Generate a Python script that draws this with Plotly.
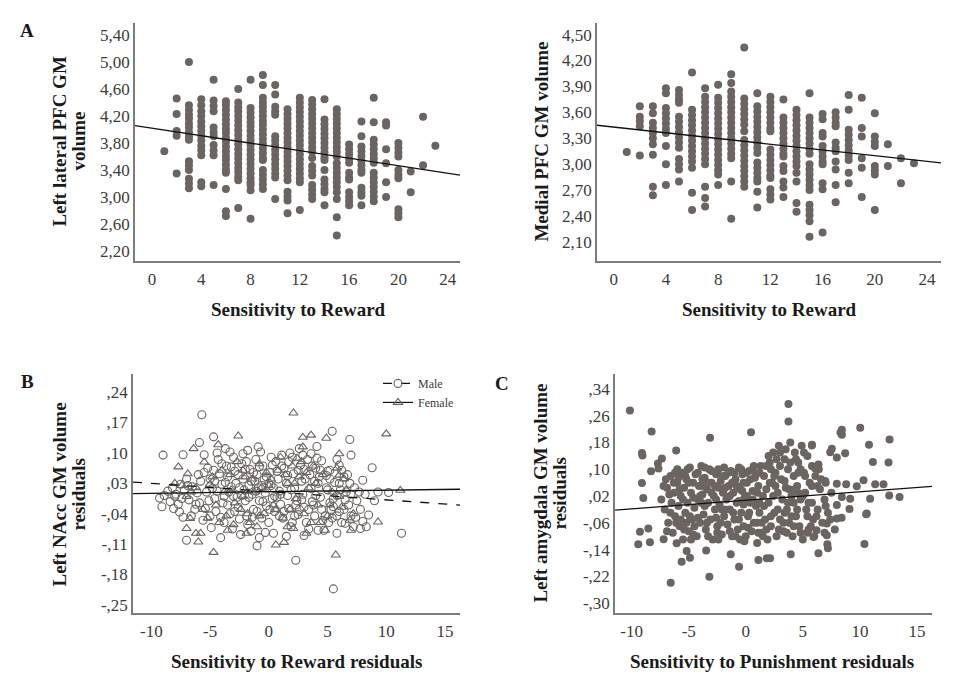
import plotly.graph_objects as go

W, H = 957, 682

# ---------------- Panel A: Left lateral PFC GM volume vs Sensitivity to Reward
a_cols = list(range(1, 24))
a_vals = [
    [3.68],
    [4.46, 4.23, 3.98, 3.91, 3.35],
    [5.00, 4.36, 4.29, 4.22, 4.16, 4.09, 4.03, 3.96, 3.90, 3.85, 3.53, 3.47, 3.40, 3.27, 3.20, 3.13],
    [4.45, 4.36, 4.27, 4.20, 4.12, 4.05, 3.98, 3.91, 3.84, 3.76, 3.69, 3.62, 3.22, 3.16],
    [4.74, 4.43, 4.35, 4.27, 4.03, 3.96, 3.90, 3.77, 3.69, 3.62, 3.18],
    [4.42, 4.36, 4.29, 4.22, 4.15, 4.08, 4.01, 3.95, 3.88, 3.82, 3.75, 3.68, 3.61, 3.55, 3.48, 3.41, 3.36, 3.12, 2.79, 2.72],
    [4.60, 4.40, 4.33, 4.27, 4.20, 4.13, 4.06, 3.99, 3.92, 3.85, 3.78, 3.71, 3.64, 3.57, 3.50, 3.43, 3.37, 3.30, 3.25, 2.84],
    [4.74, 4.32, 4.25, 4.18, 4.11, 4.05, 3.98, 3.91, 3.84, 3.77, 3.70, 3.63, 3.56, 3.49, 3.42, 3.35, 3.28, 3.22, 3.18, 3.10, 2.68],
    [4.81, 4.66, 4.47, 4.40, 4.34, 4.27, 4.20, 4.13, 4.07, 4.00, 3.93, 3.86, 3.79, 3.72, 3.65, 3.58, 3.55, 3.40, 3.33, 3.26, 3.19, 3.12],
    [4.66, 4.52, 4.34, 4.27, 4.22, 3.90, 3.84, 3.77, 3.70, 3.63, 3.56, 3.49, 3.42, 3.35, 3.29, 2.97],
    [4.30, 4.23, 4.16, 4.09, 4.02, 3.95, 3.88, 3.81, 3.74, 3.67, 3.60, 3.53, 3.46, 3.39, 3.32, 3.25, 3.08, 3.01, 2.95, 2.76],
    [4.47, 4.40, 4.33, 4.26, 4.19, 4.12, 4.05, 3.98, 3.91, 3.84, 3.77, 3.70, 3.63, 3.56, 3.49, 3.42, 3.35, 3.28, 3.22, 2.81],
    [4.44, 4.37, 4.30, 4.23, 4.16, 4.09, 4.02, 3.95, 3.88, 3.81, 3.74, 3.67, 3.58, 3.46, 3.39, 3.32, 3.18, 3.11, 3.04, 2.97],
    [4.45, 4.15, 4.08, 4.01, 3.94, 3.87, 3.80, 3.73, 3.66, 3.59, 3.55, 3.40, 3.26, 3.19, 3.12, 3.07, 2.88],
    [4.30, 4.23, 4.16, 4.09, 4.02, 3.95, 3.88, 3.81, 3.74, 3.67, 3.60, 3.50, 3.43, 3.36, 3.29, 3.22, 3.15, 3.07, 2.97, 2.70, 2.43],
    [3.78, 3.71, 3.64, 3.57, 3.51, 3.36, 3.29, 3.26, 3.07, 3.00, 2.94, 2.88],
    [4.12, 3.90, 3.75, 3.68, 3.61, 3.54, 3.47, 3.40, 3.36, 3.14, 3.07, 3.02, 2.88],
    [4.47, 4.11, 3.85, 3.78, 3.71, 3.64, 3.57, 3.51, 3.36, 3.29, 3.22, 3.15, 3.08, 3.01, 2.94],
    [4.11, 4.06, 3.71, 3.50, 3.22, 3.00],
    [3.80, 3.73, 3.66, 3.60, 3.40, 3.33, 3.28, 2.82, 2.76, 2.70],
    [3.38, 3.07],
    [4.19, 3.47],
    [3.76],
]
a_line_x = [-1.38, 25.0]
a_line_y = [4.06, 3.325]
a_yticks = [2.2, 2.6, 3.0, 3.4, 3.8, 4.2, 4.6, 5.0, 5.4]
a_yticktext = ["2,20", "2,60", "3,00", "3,40", "3,80", "4,20", "4,60", "5,00", "5,40"]
sr_xticks = [0, 4, 8, 12, 16, 20, 24]

# ---------------- Panel (top right): Medial PFC GM volume vs Sensitivity to Reward
m_cols = list(range(1, 24))
m_vals = [
    [3.14],
    [3.67, 3.55, 3.50, 3.44, 3.10],
    [3.67, 3.59, 3.48, 3.42, 3.36, 3.30, 3.23, 3.11, 2.74, 2.64],
    [3.88, 3.82, 3.65, 3.59, 3.53, 3.47, 3.41, 3.36, 3.21, 3.00, 2.76],
    [3.86, 3.80, 3.75, 3.71, 3.55, 3.49, 3.43, 3.37, 3.31, 3.25, 3.19, 3.06, 3.00, 2.94, 2.80],
    [4.06, 3.63, 3.57, 3.51, 3.45, 3.39, 3.33, 3.27, 3.21, 3.15, 3.09, 3.03, 2.96, 2.67, 2.47],
    [3.88, 3.78, 3.72, 3.66, 3.60, 3.54, 3.48, 3.42, 3.36, 3.30, 3.24, 3.18, 3.12, 3.06, 3.00, 2.74, 2.61, 2.51],
    [3.92, 3.77, 3.71, 3.65, 3.59, 3.53, 3.47, 3.41, 3.35, 3.29, 3.23, 3.17, 3.11, 3.05, 2.99, 2.93, 2.88, 2.76],
    [4.04, 3.94, 3.84, 3.78, 3.72, 3.66, 3.60, 3.54, 3.48, 3.42, 3.36, 3.30, 3.24, 3.18, 3.12, 3.07, 2.80, 2.37],
    [4.35, 3.76, 3.70, 3.64, 3.58, 3.52, 3.46, 3.38, 3.28, 3.22, 3.16, 3.10, 3.04, 2.98, 2.92, 2.86, 2.80, 2.74],
    [3.82, 3.67, 3.61, 3.55, 3.49, 3.43, 3.37, 3.31, 3.25, 3.19, 3.13, 3.02, 2.96, 2.90, 2.84, 2.80, 2.68, 2.50],
    [3.78, 3.72, 3.66, 3.60, 3.54, 3.48, 3.42, 3.38, 3.17, 3.11, 3.05, 2.99, 2.93, 2.87, 2.84, 2.71, 2.65, 2.59],
    [3.75, 3.54, 3.48, 3.42, 3.36, 3.30, 3.24, 3.18, 3.12, 3.09, 2.98, 2.92, 2.80, 2.73, 2.62],
    [3.63, 3.57, 3.51, 3.45, 3.39, 3.33, 3.27, 3.21, 3.15, 3.09, 3.03, 2.98, 2.90, 2.80, 2.55, 2.45],
    [3.82, 3.54, 3.48, 3.42, 3.36, 3.30, 3.24, 3.18, 3.12, 3.00, 2.94, 2.88, 2.82, 2.76, 2.70, 2.53, 2.47, 2.41, 2.34, 2.16],
    [3.58, 3.52, 3.36, 3.32, 3.21, 3.15, 3.09, 3.03, 3.00, 2.78, 2.71, 2.21],
    [3.60, 3.54, 3.48, 3.44, 3.25, 3.19, 3.15, 3.03, 2.94, 2.76, 2.56],
    [3.80, 3.63, 3.40, 3.34, 3.28, 3.22, 3.16, 3.10, 3.05, 2.90, 2.78],
    [3.77, 3.42, 3.32, 3.07, 2.96, 2.62],
    [3.59, 3.32, 3.26, 3.21, 2.98, 2.93, 2.88, 2.47],
    [3.23, 2.98],
    [3.07, 2.78],
    [3.01],
]
m_line_x = [-1.28, 25.07]
m_line_y = [3.451, 3.015]
m_yticks = [2.1, 2.4, 2.7, 3.0, 3.3, 3.6, 3.9, 4.2, 4.5]
m_yticktext = ["2,10", "2,40", "2,70", "3,00", "3,30", "3,60", "3,90", "4,20", "4,50"]

# ---------------- Panel B: Left NAcc residuals vs Sensitivity to Reward residuals
b_male = [
    (-5.7, 0.188), (-9.0, 0.095), (-7.3, 0.096), (-4.7, 0.137), (-5.9, 0.124), (-0.9, 0.114),
    (-1.8, 0.106), (-3.3, 0.102), (5.4, 0.150), (6.9, 0.131), (7.0, 0.095), (8.8, 0.066),
    (8.0, 0.037), (9.3, 0.010), (10.2, 0.009), (11.3, -0.085), (2.3, -0.147), (5.5, -0.213),
    (-1.0, -0.114), (-0.8, -0.095), (-0.3, -0.083), (-7.0, -0.101), (-9.1, -0.024), (-8.1, -0.028),
    (-7.6, -0.036), (-9.3, -0.004), (5.8, -0.085), (8.3, -0.070), (7.8, -0.074), (8.5, -0.043),
    (5.5, -0.024), (6.0, 0.072), (5.2, 0.060), (-5.5, 0.096),
    (-8.6, 0.012), (-8.2, 0.020), (-7.9, 0.005), (-7.5, 0.028), (-7.2, 0.015), (-6.8, -0.008),
    (-8.4, -0.012), (-7.7, -0.018), (-6.5, 0.022), (-6.3, -0.030), (-7.0, 0.040), (-6.1, 0.008),
    (-5.9, -0.015), (-8.9, 0.002), (-6.6, -0.045), (-5.6, -0.055), (-7.3, -0.048),
    (-5.2, 0.065), (-5.0, 0.040), (-4.8, 0.018), (-4.6, -0.005), (-4.5, -0.035), (-4.3, 0.085),
    (-4.2, 0.052), (-4.0, 0.028), (-3.9, -0.015), (-3.8, -0.060), (-3.6, 0.070), (-3.5, 0.045),
    (-3.4, 0.010), (-3.3, -0.040), (-3.1, -0.075), (-3.0, 0.090), (-2.9, 0.058), (-2.8, 0.030),
    (-2.7, -0.002), (-2.6, -0.025), (-2.5, -0.052), (-2.3, 0.075), (-2.2, 0.040), (-2.1, 0.015),
    (-2.0, -0.010), (-1.9, -0.045), (-1.8, -0.065), (-1.6, 0.062), (-1.5, 0.035), (-1.4, 0.005),
    (-1.3, -0.030), (-1.1, 0.085), (-1.0, 0.050), (-0.9, 0.020), (-0.8, -0.010), (-0.6, -0.050),
    (-0.5, 0.070), (-0.4, 0.038), (-0.3, 0.008), (-0.2, -0.022), (0.0, -0.060), (0.1, 0.055),
    (0.2, 0.025), (0.3, -0.005), (0.5, -0.035), (0.6, 0.080), (0.8, 0.040), (0.9, 0.012),
    (1.0, -0.018), (1.2, -0.050), (1.3, 0.065), (1.5, 0.030), (1.6, 0.002), (1.7, -0.028),
    (1.9, -0.070), (2.0, 0.090), (2.1, 0.052), (2.2, 0.020), (2.4, -0.010), (2.5, -0.042),
    (2.7, 0.072), (2.8, 0.035), (2.9, 0.005), (3.0, -0.025), (3.2, -0.060), (3.3, 0.085),
    (3.5, 0.050), (3.6, 0.018), (3.7, -0.012), (3.9, -0.045), (4.0, 0.065), (4.2, 0.030),
    (4.4, -0.002), (4.5, -0.030), (4.7, -0.078), (4.9, 0.048), (5.0, 0.015), (5.2, -0.015),
    (5.4, -0.050), (5.6, 0.032), (5.8, 0.002), (6.0, -0.035), (6.2, -0.060), (6.4, 0.045),
    (6.6, 0.010), (6.8, -0.020), (7.0, -0.045), (7.3, 0.020), (7.5, -0.010), (7.8, -0.030),
    (8.2, 0.005), (9.0, -0.010), (-4.9, -0.072), (-4.1, -0.095), (-2.4, -0.088), (-1.5, -0.080),
    (0.4, -0.085), (1.5, -0.092), (3.0, -0.090), (4.2, -0.078), (6.5, -0.062), (-3.7, 0.110),
    (-2.2, 0.098), (-0.7, 0.102), (1.8, 0.100), (3.6, 0.098), (4.5, 0.082), (5.8, 0.085),
    (-5.3, 0.010), (-5.4, -0.028), (-3.2, 0.022), (-1.7, -0.002), (0.0, 0.030), (0.7, -0.002),
    (2.3, -0.020), (3.9, 0.035), (4.8, -0.045), (6.2, 0.060), (7.2, -0.070), (8.0, -0.058),
    (-6.0, 0.050), (-4.4, 0.100), (1.1, 0.095), (2.6, 0.110), (4.1, 0.115), (-1.2, 0.035),
    (0.3, 0.072), (3.4, -0.075), (5.1, -0.060), (6.9, 0.030),
    (-5.8, 0.035), (-5.1, -0.010), (-4.7, 0.060), (-4.4, 0.012), (-4.1, -0.048), (-3.7, 0.032),
    (-3.5, -0.020), (-3.2, 0.068), (-2.9, -0.035), (-2.6, 0.050), (-2.3, 0.002), (-2.0, 0.062),
    (-1.7, 0.025), (-1.4, -0.048), (-1.1, 0.012), (-0.8, 0.068), (-0.5, -0.012), (-0.2, 0.045),
    (0.1, -0.030), (0.4, 0.020), (0.7, 0.058), (1.0, 0.005), (1.3, -0.035), (1.6, 0.048),
    (1.9, 0.015), (2.2, -0.045), (2.5, 0.060), (2.8, -0.008), (3.1, 0.040), (3.4, -0.030),
    (3.7, 0.070), (4.0, 0.002), (4.3, 0.045), (4.6, -0.055), (4.9, 0.020), (5.2, 0.040),
    (5.5, -0.005), (5.8, -0.045), (6.1, 0.015), (6.4, -0.030), (6.7, 0.050), (7.0, 0.005),
    (7.4, -0.048), (7.7, 0.010), (-8.0, 0.000), (-7.4, -0.005), (-6.9, 0.025), (-6.2, -0.018),
    (-5.5, 0.055), (-5.0, -0.045), (-4.0, 0.075), (-3.0, 0.000), (-1.9, 0.080), (-1.0, -0.035),
    (0.2, 0.090), (1.1, 0.070), (2.0, -0.060), (3.0, 0.062), (4.1, 0.088), (5.0, 0.058),
    (6.0, 0.030), (-0.6, 0.025), (-2.5, 0.020), (-3.8, 0.000), (0.9, -0.045), (2.6, -0.030),
    (3.8, -0.020), (5.3, -0.030), (6.5, -0.008), (-4.6, 0.035), (-1.3, 0.055), (0.5, 0.000),
    (1.7, 0.080), (2.9, 0.095), (4.4, 0.060),
]
b_female = [
    (2.1, 0.192), (10.0, 0.144), (2.9, 0.136), (3.6, 0.141), (4.9, 0.134), (-2.6, 0.139),
    (-4.3, 0.119), (-6.4, 0.110), (2.9, 0.114), (6.0, 0.098), (-7.7, 0.068), (-6.9, 0.052),
    (-5.5, 0.079), (6.0, 0.049), (11.2, 0.014), (9.3, -0.059), (-6.7, -0.051), (-7.0, -0.074),
    (-6.2, -0.085), (-5.8, -0.085), (-6.0, -0.105), (-4.7, -0.129), (5.7, -0.135), (0.6, -0.112),
    (1.3, -0.106), (4.8, -0.078), (7.0, -0.078), (2.1, -0.074), (-1.9, -0.085), (-3.5, -0.078),
    (-5.0, 0.028), (-4.5, -0.020), (-4.0, 0.060), (-3.6, -0.045), (-3.2, 0.015), (-2.7, 0.080),
    (-2.4, -0.030), (-2.0, 0.045), (-1.6, -0.060), (-1.2, 0.010), (-0.8, 0.075), (-0.4, -0.040),
    (0.0, 0.025), (0.4, -0.020), (0.8, 0.060), (1.2, -0.050), (1.6, 0.030), (2.0, 0.070),
    (2.3, -0.005), (2.6, 0.045), (3.0, -0.040), (3.4, 0.020), (3.8, 0.070), (4.2, -0.020),
    (4.6, 0.050), (5.0, -0.045), (5.4, 0.010), (5.8, 0.065), (6.2, -0.025), (6.6, 0.015),
    (7.2, -0.040), (-7.0, 0.000), (-6.2, 0.020), (-5.6, -0.030), (-8.0, 0.030), (-3.0, -0.065),
    (1.0, 0.090), (2.4, 0.088), (3.2, -0.085), (4.4, -0.060), (-1.0, -0.070), (0.2, 0.040),
    (1.8, -0.030), (-2.2, 0.000), (6.9, -0.055),
    (-4.8, 0.045), (-4.2, -0.060), (-3.8, 0.010), (-3.3, 0.050), (-2.9, -0.015), (-2.2, 0.060),
    (-1.8, -0.040), (-1.4, 0.040), (-0.6, 0.020), (-0.2, 0.055), (0.6, -0.030), (1.4, 0.050),
    (2.2, 0.030), (2.8, 0.080), (3.6, -0.060), (4.0, 0.030), (5.2, -0.020), (6.0, 0.000),
    (6.4, 0.040), (-5.2, -0.050), (-6.6, 0.010), (-7.4, 0.025), (3.2, 0.055), (1.6, -0.070),
    (-0.8, -0.045),
]
b_male_line_x = [-11.56, 16.28]
b_male_line_y = [0.033, -0.020]
b_female_line_x = [-11.56, 16.28]
b_female_line_y = [0.0065, 0.0164]
b_yticks = [-0.25, -0.18, -0.11, -0.04, 0.03, 0.10, 0.17, 0.24]
b_yticktext = ["-,25", "-,18", "-,11", "-,04", ",03", ",10", ",17", ",24"]
res_xticks = [-10, -5, 0, 5, 10, 15]

# ---------------- Panel C: Left amygdala residuals vs Sensitivity to Punishment residuals
c_points = [
    (-10.15, 0.276), (-8.25, 0.213), (-3.13, 0.194), (0.46, 0.211), (-9.1, 0.149), (-9.05, 0.141),
    (-6.1, 0.156), (-7.35, 0.132), (-7.7, 0.117), (-7.65, 0.102), (-8.3, 0.094), (-9.1, 0.059),
    (-8.98, 0.014), (-9.42, -0.124), (-8.4, -0.118), (-7.2, -0.109), (-5.62, -0.176), (-4.89, -0.164),
    (-6.58, -0.239), (-3.19, -0.221), (-1.32, -0.154), (-0.59, -0.191), (-3.47, -0.143), (-6.06, -0.121),
    (-5.18, -0.144), (-0.12, -0.115), (1.11, -0.171), (1.84, -0.166), (-9.27, -0.087), (-8.54, -0.077),
    (3.74, 0.295), (3.74, 0.243), (10.03, 0.224), (8.42, 0.218), (8.42, 0.203), (12.6, 0.189),
    (10.8, 0.173), (5.79, 0.171), (7.54, 0.161), (7.4, 0.151), (8.71, 0.148), (7.98, 0.135),
    (11.14, 0.122), (12.51, 0.120), (6.37, 0.114), (6.08, 0.102), (10.32, 0.067), (11.34, 0.055),
    (12.07, 0.055), (9.73, 0.049), (8.8, 0.055), (7.98, 0.057), (6.96, 0.065), (10.9, 0.012),
    (12.57, 0.022), (13.48, 0.017), (9.15, 0.012), (8.42, 0.017), (7.98, -0.007), (9.09, -0.019),
    (10.55, -0.034), (8.4, -0.045), (7.98, -0.047), (7.1, -0.062), (7.1, -0.097), (7.15, -0.124),
    (7.2, -0.136), (10.4, -0.123), (6.37, -0.151), (3.94, -0.154), (2.13, -0.166), (5.93, -0.102),
    (6.2, -0.082), (10.6, -0.032), (5.8, 0.173), (8.3, 0.210),
    (-7.4, 0.010), (-7.1, -0.020), (-6.9, 0.045), (-6.8, -0.060), (-6.6, 0.080), (-6.5, 0.000),
    (-6.4, -0.090), (-6.3, 0.030), (-6.2, -0.040), (-6.0, 0.100), (-6.0, 0.060), (-5.9, -0.010),
    (-5.8, -0.070), (-5.7, 0.020), (-5.6, 0.090), (-5.5, -0.110), (-5.4, 0.045), (-5.3, -0.030),
    (-5.2, 0.070), (-5.1, 0.000), (-5.0, -0.085), (-4.9, 0.105), (-4.8, 0.030), (-4.7, -0.050),
    (-4.6, 0.060), (-4.5, -0.015), (-4.4, 0.085), (-4.3, -0.100), (-4.2, 0.010), (-4.1, 0.050),
    (-4.0, -0.060), (-3.9, 0.110), (-3.8, 0.025), (-3.7, -0.035), (-3.6, 0.075), (-3.5, -0.080),
    (-3.4, 0.040), (-3.3, 0.000), (-3.2, 0.100), (-3.1, -0.050), (-3.0, 0.060), (-2.9, -0.110),
    (-2.8, 0.020), (-2.7, -0.020), (-2.6, 0.085), (-2.5, -0.070), (-2.4, 0.045), (-2.3, -0.005),
    (-2.2, 0.065), (-2.1, -0.095), (-2.0, 0.030), (-1.9, -0.040), (-1.8, 0.080), (-1.7, 0.010),
    (-1.6, -0.065), (-1.5, 0.050), (-1.4, -0.020), (-1.3, 0.095), (-1.2, -0.100), (-1.1, 0.030),
    (-1.0, -0.050), (-0.9, 0.070), (-0.8, 0.000), (-0.7, -0.080), (-0.6, 0.105), (-0.5, 0.040),
    (-0.4, -0.030), (-0.3, 0.085), (-0.2, -0.070), (-0.1, 0.015), (0.0, -0.100), (0.1, 0.060),
    (0.2, -0.040), (0.3, 0.095), (0.4, 0.000), (0.5, -0.085), (0.6, 0.035), (0.7, -0.060),
    (0.8, 0.075), (0.9, -0.010), (1.0, -0.120), (1.1, 0.050), (1.2, -0.030), (1.3, 0.110),
    (1.4, -0.090), (1.5, 0.020), (1.6, 0.080), (1.7, -0.050), (1.8, 0.040), (1.9, -0.110),
    (2.0, 0.000), (2.1, 0.120), (2.2, -0.070), (2.3, 0.060), (2.4, 0.150), (2.5, -0.030),
    (2.6, 0.090), (2.7, -0.100), (2.8, 0.030), (2.9, 0.170), (3.0, -0.050), (3.1, 0.070),
    (3.2, 0.010), (3.3, -0.085), (3.4, 0.130), (3.5, 0.045), (3.6, -0.020), (3.7, 0.100),
    (3.8, -0.060), (3.9, 0.180), (4.0, 0.020), (4.1, -0.100), (4.2, 0.080), (4.3, 0.150),
    (4.4, -0.040), (4.5, 0.050), (4.6, 0.120), (4.7, -0.070), (4.8, 0.010), (4.9, 0.170),
    (5.0, -0.110), (5.1, 0.090), (5.2, 0.030), (5.3, -0.020), (5.4, 0.140), (5.5, -0.080),
    (5.6, 0.060), (5.8, 0.000), (5.9, -0.050), (6.1, 0.080), (6.3, -0.020), (6.5, 0.040),
    (6.7, -0.060), (6.9, 0.010), (7.2, -0.030), (7.5, 0.030), (7.8, -0.080),
    (-5.5, 0.010), (-4.9, -0.040), (-4.2, 0.090), (-3.6, -0.010), (-3.0, 0.030), (-2.4, 0.100),
    (-1.8, -0.020), (-1.2, 0.060), (-0.6, -0.050), (0.0, 0.090), (0.6, 0.010), (1.2, 0.090),
    (1.8, -0.080), (2.4, 0.020), (3.0, 0.110), (3.6, -0.090), (4.2, 0.000), (4.8, 0.100),
    (5.4, -0.040), (-6.7, 0.025), (-5.9, 0.075), (-5.2, -0.060), (-4.6, -0.095), (-3.9, 0.000),
    (-3.3, 0.060), (-2.6, -0.045), (-2.0, 0.080), (-1.4, 0.020), (-0.8, 0.050), (-0.2, -0.005),
    (0.4, 0.070), (1.0, -0.060), (1.6, -0.010), (2.2, 0.100), (2.8, -0.020), (3.4, 0.065),
    (4.0, -0.040), (4.6, 0.030), (5.2, 0.080), (5.8, 0.050), (6.4, 0.100), (7.0, 0.060),
    (-7.0, 0.070), (-6.6, -0.030), (-6.2, 0.090), (-5.8, 0.040), (-5.4, -0.080), (-5.0, 0.060),
    (-4.6, 0.015), (-4.2, -0.045), (-3.8, 0.070), (-3.4, -0.060), (-3.0, 0.095), (-2.6, 0.010),
    (-2.2, -0.060), (-1.8, 0.045), (-1.4, -0.085), (-1.0, 0.090), (-0.6, 0.005), (-0.2, 0.060),
    (0.2, -0.075), (0.6, 0.100), (1.0, 0.030), (1.4, -0.060), (1.8, 0.110), (2.2, -0.040),
    (2.6, 0.050), (3.0, 0.150), (3.4, -0.030), (3.8, 0.040), (4.2, -0.070), (4.6, 0.090),
    (5.0, 0.020), (5.4, -0.090), (5.8, 0.110), (6.2, -0.040), (6.6, 0.070), (7.0, -0.010),
    (-6.9, -0.085), (-6.3, 0.060), (-5.7, -0.050), (-5.1, 0.100), (-4.5, -0.070), (-3.9, 0.050),
    (-3.3, -0.100), (-2.7, 0.050), (-2.1, -0.020), (-1.5, 0.090), (-0.9, -0.100), (-0.3, 0.035),
    (0.3, -0.030), (0.9, 0.085), (1.5, -0.100), (2.1, 0.060), (2.7, 0.130), (3.3, -0.060),
    (3.9, 0.120), (4.5, -0.020), (5.1, 0.150), (5.7, -0.070), (6.3, 0.050), (6.9, -0.090),
    (-7.2, 0.050), (-6.1, -0.060), (-4.8, -0.110), (-4.0, 0.020), (-2.5, -0.090), (-1.1, -0.030),
    (0.1, 0.020), (1.1, -0.090), (2.5, 0.080), (3.5, 0.160), (4.4, 0.130), (5.5, 0.000),
    (6.0, -0.100), (7.4, -0.050), (-5.3, 0.080), (-3.6, 0.105), (-1.9, 0.105), (-0.4, 0.100),
    (0.7, 0.110), (2.0, 0.140), (3.7, 0.000), (4.3, 0.040), (-2.4, -0.110), (-0.5, -0.110),
    (1.2, 0.000), (2.9, -0.080), (4.8, -0.090),
]
c_line_x = [-11.46, 16.32]
c_line_y = [-0.022, 0.049]
c_yticks = [-0.30, -0.22, -0.14, -0.06, 0.02, 0.10, 0.18, 0.26, 0.34]
c_yticktext = ["-,30", "-,22", "-,14", "-,06", ",02", ",10", ",18", ",26", ",34"]

# ---------------- styling
DOT = "#6b6461"
AXIS = "#7d7d7d"
SERIF = "Liberation Serif, Times New Roman, serif"
TICKFONT = dict(family=SERIF, size=17, color="#3c3c3c")


def flatten(cols, vals):
    xs, ys = [], []
    for c, v in zip(cols, vals):
        xs.extend([c] * len(v))
        ys.extend(v)
    return xs, ys


a_x, a_y = flatten(a_cols, a_vals)
m_x, m_y = flatten(m_cols, m_vals)

fig = go.Figure()

dot_marker = dict(color=DOT, size=8, line=dict(width=0))
open_circle = dict(symbol="circle-open", color=DOT, size=8, line=dict(width=1.1, color=DOT))
open_tri = dict(symbol="triangle-up-open", color=DOT, size=8, line=dict(width=1.1, color=DOT))

fig.add_trace(go.Scatter(x=a_x, y=a_y, mode="markers", marker=dot_marker,
                         xaxis="x", yaxis="y", showlegend=False))
fig.add_trace(go.Scatter(x=a_line_x, y=a_line_y, mode="lines",
                         line=dict(color="#111111", width=1.3),
                         xaxis="x", yaxis="y", showlegend=False))

fig.add_trace(go.Scatter(x=m_x, y=m_y, mode="markers", marker=dot_marker,
                         xaxis="x2", yaxis="y2", showlegend=False))
fig.add_trace(go.Scatter(x=m_line_x, y=m_line_y, mode="lines",
                         line=dict(color="#111111", width=1.3),
                         xaxis="x2", yaxis="y2", showlegend=False))

fig.add_trace(go.Scatter(x=[p[0] for p in b_male], y=[p[1] for p in b_male], mode="markers",
                         marker=open_circle, xaxis="x3", yaxis="y3", showlegend=False))
fig.add_trace(go.Scatter(x=[p[0] for p in b_female], y=[p[1] for p in b_female], mode="markers",
                         marker=open_tri, xaxis="x3", yaxis="y3", showlegend=False))
fig.add_trace(go.Scatter(x=b_male_line_x, y=b_male_line_y, mode="lines",
                         line=dict(color="#111111", width=1.3, dash="dash"),
                         xaxis="x3", yaxis="y3", showlegend=False))
fig.add_trace(go.Scatter(x=b_female_line_x, y=b_female_line_y, mode="lines",
                         line=dict(color="#111111", width=1.3),
                         xaxis="x3", yaxis="y3", showlegend=False))
# legend entries
fig.add_trace(go.Scatter(x=[None], y=[None], mode="lines+markers", name="Male",
                         line=dict(color="#111111", width=1.2, dash="dash"), marker=open_circle,
                         xaxis="x3", yaxis="y3", showlegend=True))
fig.add_trace(go.Scatter(x=[None], y=[None], mode="lines+markers", name="Female",
                         line=dict(color="#111111", width=1.2), marker=open_tri,
                         xaxis="x3", yaxis="y3", showlegend=True))

fig.add_trace(go.Scatter(x=[p[0] for p in c_points], y=[p[1] for p in c_points], mode="markers",
                         marker=dot_marker, xaxis="x4", yaxis="y4", showlegend=False))
fig.add_trace(go.Scatter(x=c_line_x, y=c_line_y, mode="lines",
                         line=dict(color="#111111", width=1.3),
                         xaxis="x4", yaxis="y4", showlegend=False))


def px_x(p):
    return p / W


def px_y(p):
    return 1 - p / H


def xax(domain, rng, ticks, anchor):
    return dict(domain=domain, range=rng, tickvals=ticks, ticktext=[str(t) for t in ticks],
                anchor=anchor, showline=True, linecolor=AXIS, linewidth=1.6,
                showgrid=False, zeroline=False, ticks="", tickfont=TICKFONT, ticklabelstandoff=2)


def yax(domain, rng, ticks, text, anchor):
    return dict(domain=domain, range=rng, tickvals=ticks, ticktext=text,
                anchor=anchor, showline=True, linecolor=AXIS, linewidth=1.6,
                showgrid=False, zeroline=False, ticks="", tickfont=TICKFONT, ticklabelstandoff=0)


top_dom = [px_y(262), px_y(23)]
bot_dom = [px_y(615), px_y(375)]

layout = dict(
    width=W, height=H,
    margin=dict(l=0, r=0, t=0, b=0),
    paper_bgcolor="white", plot_bgcolor="white",
    xaxis=xax([px_x(135), px_x(460)], [-1.38, 25.0], sr_xticks, "y"),
    yaxis=yax(top_dom, [2.05, 5.58], a_yticks, a_yticktext, "x"),
    xaxis2=xax([px_x(597), px_x(941)], [-1.28, 25.07], sr_xticks, "y2"),
    yaxis2=yax(top_dom, [1.877, 4.635], m_yticks, m_yticktext, "x2"),
    xaxis3=xax([px_x(133), px_x(460)], [-11.56, 16.28], res_xticks, "y3"),
    yaxis3=yax(bot_dom, [-0.269, 0.282], b_yticks, b_yticktext, "x3"),
    xaxis4=xax([px_x(615), px_x(932)], [-11.46, 16.32], res_xticks, "y4"),
    yaxis4=yax(bot_dom, [-0.33, 0.385], c_yticks, c_yticktext, "x4"),
    legend=dict(x=px_x(378), y=px_y(370), xanchor="left", yanchor="top",
                bgcolor="rgba(0,0,0,0)", font=dict(family=SERIF, size=12, color="#3c3c3c"),
                itemwidth=30, tracegroupgap=0),
    showlegend=True,
)

ann = []


def add_text(text, x, y, angle=0, size=19):
    ann.append(dict(text=text, x=px_x(x), y=px_y(y), xref="paper", yref="paper",
                    showarrow=False, textangle=angle, xanchor="center", yanchor="middle",
                    font=dict(family=SERIF, size=size, color="#1a1a1a")))


add_text("<b>A</b>", 27, 31, size=19)
add_text("<b>B</b>", 27, 383, size=19)
add_text("<b>C</b>", 502, 385, size=19)
add_text("<b>Left lateral PFC GM</b>", 60, 142, angle=-90)
add_text("<b>volume</b>", 79, 142, angle=-90)
add_text("<b>Sensitivity to Reward</b>", 298, 310)
add_text("<b>Medial PFC GM volume</b>", 542, 142, angle=-90)
add_text("<b>Sensitivity to Reward</b>", 769, 310)
add_text("<b>Left NAcc GM volume</b>", 60, 496, angle=-90)
add_text("<b>residuals</b>", 79, 496, angle=-90)
add_text("<b>Sensitivity to Reward residuals</b>", 296, 663)
add_text("<b>Left amygdala GM volume</b>", 541, 495, angle=-90)
add_text("<b>residuals</b>", 560, 495, angle=-90)
add_text("<b>Sensitivity to Punishment residuals</b>", 772, 663)

layout["annotations"] = ann
fig.update_layout(**layout)

fig.write_html("out.html", config={"displayModeBar": False},
               post_script="document.body.style.margin='0px';")
